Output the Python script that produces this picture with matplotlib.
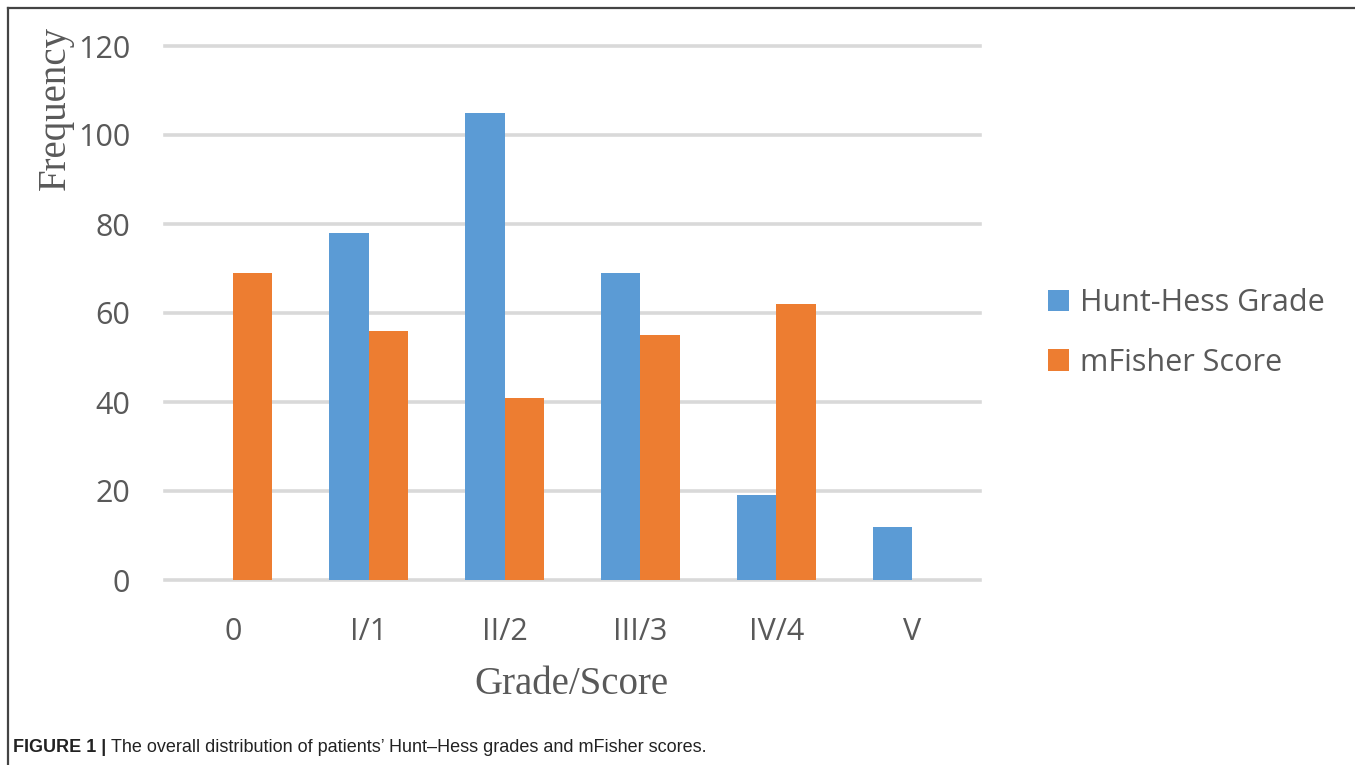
import numpy as np
import matplotlib.pyplot as plt
from matplotlib.lines import Line2D

# Frequencies per grade/score category
categories = ['0', 'I/1', 'II/2', 'III/3', 'IV/4', 'V']
hunt_hess = [np.nan, 78, 105, 69, 19, 12]
mfisher = [69, 56, 41, 55, 62, np.nan]
y_ticks = [0, 20, 40, 60, 80, 100, 120]

blue = '#5B9BD5'
orange = '#ED7D31'
text_gray = '#595959'
tick_font = 'Open Sans'
serif_font = 'Liberation Serif'

fig = plt.figure(figsize=(13.55, 7.65), dpi=100)
ax = fig.add_axes([165 / 1355, 1 - 580 / 765, 815 / 1355, 534 / 765])

x = np.arange(len(categories))
w = 0.29
ax.bar(x - w / 2, hunt_hess, w, color=blue, label='Hunt-Hess Grade', zorder=3)
ax.bar(x + w / 2, mfisher, w, color=orange, label='mFisher Score', zorder=3)

ax.set_xlim(-0.5, len(categories) - 0.5)
ax.set_ylim(0, 120)
ax.set_yticks(y_ticks)
ax.set_xticks(x)
ax.set_xticklabels(categories)

# horizontal gridlines, no axis spines
for t in y_ticks:
    ax.axhline(t, color='#D9D9D9', lw=2.6, zorder=1, clip_on=False)
for s in ax.spines.values():
    s.set_visible(False)

ax.tick_params(axis='both', length=0, labelsize=22, labelcolor=text_gray)
ax.tick_params(axis='y', pad=25)
ax.tick_params(axis='x', pad=27)
for lab in ax.get_xticklabels() + ax.get_yticklabels():
    lab.set_fontfamily(tick_font)

fig.text(55 / 1355, 1 - 108 / 765, 'Frequency', rotation=90, ha='center', va='center',
         fontsize=28, color=text_gray, family=serif_font)
fig.text(571 / 1355, 1 - 685 / 765, 'Grade/Score', ha='center', va='center',
         fontsize=28, color=text_gray, family=serif_font)

leg = fig.legend(loc='center left', bbox_to_anchor=(1020 / 1355, 1 - 333 / 765),
                 frameon=False, prop={'family': tick_font, 'size': 22},
                 handlelength=0.7, handleheight=0.7, handletextpad=0.35,
                 labelspacing=0.95, labelcolor=text_gray)

# caption below the chart: bold label, then the description right after it
cap_y = 1 - 747 / 765
head = fig.text(13 / 1355, cap_y, 'FIGURE 1 |', ha='left', va='center',
                fontsize=13, fontweight='bold', family='Liberation Sans', color='#222222')
fig.canvas.draw()
bb = head.get_window_extent(renderer=fig.canvas.get_renderer())
fig.text(bb.x1 / fig.bbox.width + 5 / 1355, cap_y,
         'The overall distribution of patients\u2019 Hunt\u2013Hess grades and mFisher scores.',
         ha='left', va='center', fontsize=13, family='Liberation Sans', color='#222222')

# frame lines on the top and left edges
fig.add_artist(Line2D([8 / 1355, 1], [1 - 8 / 765, 1 - 8 / 765], color='#444444', lw=1.6))
fig.add_artist(Line2D([8 / 1355, 8 / 1355], [0, 1 - 8 / 765], color='#444444', lw=1.6))

fig.savefig('out.png', dpi=100)
